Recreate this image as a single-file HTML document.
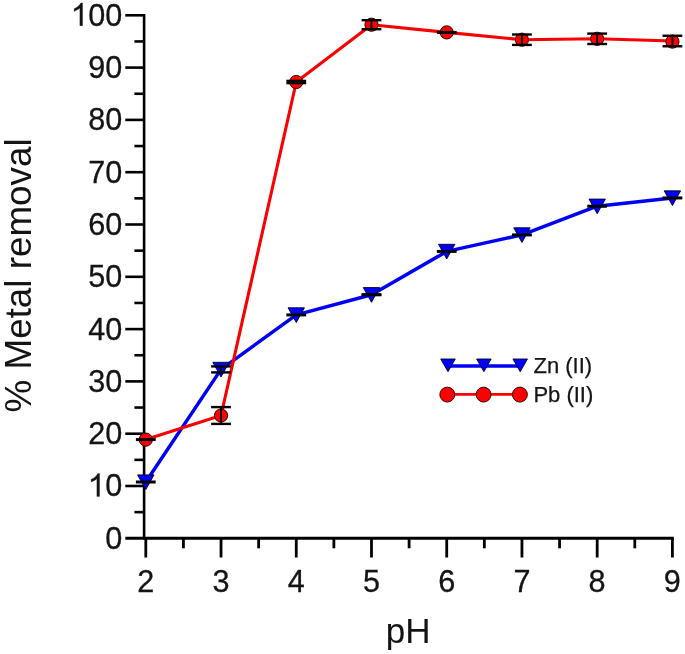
<!DOCTYPE html>
<html><head><meta charset="utf-8"><title>chart</title>
<style>
html,body{margin:0;padding:0;background:#fff;}
svg{display:block;filter:blur(0.6px);}
text{font-family:"Liberation Sans",sans-serif;fill:#141414;}
</style></head><body>
<svg width="685" height="654" viewBox="0 0 685 654">
<rect width="685" height="654" fill="#ffffff"/>
<g stroke="#000" stroke-width="2.60" fill="none" stroke-linecap="butt">
<path d="M144.10 14.00 V539.60"/>
<path d="M125.30 538.30 H673.81" stroke-width="2.9"/>
<path d="M134.4 512.15 H144.10"/>
<path d="M125.3 486.00 H144.10"/>
<path d="M134.4 459.85 H144.10"/>
<path d="M125.3 433.70 H144.10"/>
<path d="M134.4 407.55 H144.10"/>
<path d="M125.3 381.40 H144.10"/>
<path d="M134.4 355.25 H144.10"/>
<path d="M125.3 329.10 H144.10"/>
<path d="M134.4 302.95 H144.10"/>
<path d="M125.3 276.80 H144.10"/>
<path d="M134.4 250.65 H144.10"/>
<path d="M125.3 224.50 H144.10"/>
<path d="M134.4 198.35 H144.10"/>
<path d="M125.3 172.20 H144.10"/>
<path d="M134.4 146.05 H144.10"/>
<path d="M125.3 119.90 H144.10"/>
<path d="M134.4 93.75 H144.10"/>
<path d="M125.3 67.60 H144.10"/>
<path d="M134.4 41.45 H144.10"/>
<path d="M125.3 15.30 H144.10"/>
</g>
<g stroke="#000" stroke-width="2.8" fill="none">
<path d="M145.80 538.30 V557.5"/>
<path d="M183.42 538.30 V548.3"/>
<path d="M221.03 538.30 V557.5"/>
<path d="M258.64 538.30 V548.3"/>
<path d="M296.26 538.30 V557.5"/>
<path d="M333.88 538.30 V548.3"/>
<path d="M371.49 538.30 V557.5"/>
<path d="M409.11 538.30 V548.3"/>
<path d="M446.72 538.30 V557.5"/>
<path d="M484.34 538.30 V548.3"/>
<path d="M521.95 538.30 V557.5"/>
<path d="M559.57 538.30 V548.3"/>
<path d="M597.18 538.30 V557.5"/>
<path d="M634.80 538.30 V548.3"/>
<path d="M672.41 538.30 V557.5"/>
</g>
<text transform="translate(105.19 548.70) scale(0.965 1)" font-size="31.7px" stroke="#141414" stroke-width="0.3">0</text>
<path transform="translate(88.17 496.40) scale(0.01494 -0.01548)" d="M763 0 H583 V1147 Q518 1085 412.5 1023 Q307 961 200 925 V1100 Q374 1175 487 1276 Q600 1377 647 1472 H763 Z" fill="#141414" stroke="#141414" stroke-width="20"/><text transform="translate(105.19 496.40) scale(0.965 1)" font-size="31.7px" stroke="#141414" stroke-width="0.3">0</text>
<text transform="translate(88.17 444.10) scale(0.965 1)" font-size="31.7px" stroke="#141414" stroke-width="0.3">2</text><text transform="translate(105.19 444.10) scale(0.965 1)" font-size="31.7px" stroke="#141414" stroke-width="0.3">0</text>
<text transform="translate(88.17 391.80) scale(0.965 1)" font-size="31.7px" stroke="#141414" stroke-width="0.3">3</text><text transform="translate(105.19 391.80) scale(0.965 1)" font-size="31.7px" stroke="#141414" stroke-width="0.3">0</text>
<text transform="translate(88.17 339.50) scale(0.965 1)" font-size="31.7px" stroke="#141414" stroke-width="0.3">4</text><text transform="translate(105.19 339.50) scale(0.965 1)" font-size="31.7px" stroke="#141414" stroke-width="0.3">0</text>
<text transform="translate(88.17 287.20) scale(0.965 1)" font-size="31.7px" stroke="#141414" stroke-width="0.3">5</text><text transform="translate(105.19 287.20) scale(0.965 1)" font-size="31.7px" stroke="#141414" stroke-width="0.3">0</text>
<text transform="translate(88.17 234.90) scale(0.965 1)" font-size="31.7px" stroke="#141414" stroke-width="0.3">6</text><text transform="translate(105.19 234.90) scale(0.965 1)" font-size="31.7px" stroke="#141414" stroke-width="0.3">0</text>
<text transform="translate(88.17 182.60) scale(0.965 1)" font-size="31.7px" stroke="#141414" stroke-width="0.3">7</text><text transform="translate(105.19 182.60) scale(0.965 1)" font-size="31.7px" stroke="#141414" stroke-width="0.3">0</text>
<text transform="translate(88.17 130.30) scale(0.965 1)" font-size="31.7px" stroke="#141414" stroke-width="0.3">8</text><text transform="translate(105.19 130.30) scale(0.965 1)" font-size="31.7px" stroke="#141414" stroke-width="0.3">0</text>
<text transform="translate(88.17 78.00) scale(0.965 1)" font-size="31.7px" stroke="#141414" stroke-width="0.3">9</text><text transform="translate(105.19 78.00) scale(0.965 1)" font-size="31.7px" stroke="#141414" stroke-width="0.3">0</text>
<path transform="translate(71.16 25.70) scale(0.01494 -0.01548)" d="M763 0 H583 V1147 Q518 1085 412.5 1023 Q307 961 200 925 V1100 Q374 1175 487 1276 Q600 1377 647 1472 H763 Z" fill="#141414" stroke="#141414" stroke-width="20"/><text transform="translate(88.17 25.70) scale(0.965 1)" font-size="31.7px" stroke="#141414" stroke-width="0.3">0</text><text transform="translate(105.19 25.70) scale(0.965 1)" font-size="31.7px" stroke="#141414" stroke-width="0.3">0</text>
<text transform="translate(137.24 591.50) scale(0.965 1)" font-size="31.7px" stroke="#141414" stroke-width="0.3">2</text>
<text transform="translate(212.47 591.50) scale(0.965 1)" font-size="31.7px" stroke="#141414" stroke-width="0.3">3</text>
<text transform="translate(287.70 591.50) scale(0.965 1)" font-size="31.7px" stroke="#141414" stroke-width="0.3">4</text>
<text transform="translate(362.93 591.50) scale(0.965 1)" font-size="31.7px" stroke="#141414" stroke-width="0.3">5</text>
<text transform="translate(438.16 591.50) scale(0.965 1)" font-size="31.7px" stroke="#141414" stroke-width="0.3">6</text>
<text transform="translate(513.39 591.50) scale(0.965 1)" font-size="31.7px" stroke="#141414" stroke-width="0.3">7</text>
<text transform="translate(588.62 591.50) scale(0.965 1)" font-size="31.7px" stroke="#141414" stroke-width="0.3">8</text>
<text transform="translate(663.85 591.50) scale(0.965 1)" font-size="31.7px" stroke="#141414" stroke-width="0.3">9</text>
<text x="408.2" y="642.6" font-size="35.1px" text-anchor="middle">pH</text>
<text transform="translate(31.0 275.4) rotate(-90)" font-size="36.8px" text-anchor="middle">% Metal removal</text>
<polyline fill="none" stroke="#0000f4" stroke-width="3.5" stroke-linejoin="round" points="145.80,482.00 221.03,369.40 296.26,314.90 371.49,294.70 446.72,251.40 521.95,234.90 597.18,206.20 672.41,197.95"/>
<polyline fill="none" stroke="#fa0000" stroke-width="3.1" stroke-linejoin="round" points="145.80,439.60 221.03,415.50 296.26,82.00 371.49,24.70 446.72,32.40 521.95,39.70 597.18,38.80 672.41,41.00"/>
<path d="M137.60 474.90 L154.00 474.90 L145.80 489.60 Z" fill="#0000ff" stroke="#000020" stroke-width="0.9" stroke-linejoin="miter"/>
<path d="M212.83 362.30 L229.23 362.30 L221.03 377.00 Z" fill="#0000ff" stroke="#000020" stroke-width="0.9" stroke-linejoin="miter"/>
<path d="M288.06 307.80 L304.46 307.80 L296.26 322.50 Z" fill="#0000ff" stroke="#000020" stroke-width="0.9" stroke-linejoin="miter"/>
<path d="M363.29 287.60 L379.69 287.60 L371.49 302.30 Z" fill="#0000ff" stroke="#000020" stroke-width="0.9" stroke-linejoin="miter"/>
<path d="M438.52 244.30 L454.92 244.30 L446.72 259.00 Z" fill="#0000ff" stroke="#000020" stroke-width="0.9" stroke-linejoin="miter"/>
<path d="M513.75 227.80 L530.15 227.80 L521.95 242.50 Z" fill="#0000ff" stroke="#000020" stroke-width="0.9" stroke-linejoin="miter"/>
<path d="M588.98 199.10 L605.38 199.10 L597.18 213.80 Z" fill="#0000ff" stroke="#000020" stroke-width="0.9" stroke-linejoin="miter"/>
<path d="M664.21 190.85 L680.61 190.85 L672.41 205.55 Z" fill="#0000ff" stroke="#000020" stroke-width="0.9" stroke-linejoin="miter"/>
<circle cx="145.80" cy="439.60" r="6.60" fill="#ff0000" stroke="#300000" stroke-width="1.0"/>
<circle cx="221.03" cy="415.50" r="6.60" fill="#ff0000" stroke="#300000" stroke-width="1.0"/>
<circle cx="296.26" cy="82.00" r="6.60" fill="#ff0000" stroke="#300000" stroke-width="1.0"/>
<circle cx="371.49" cy="24.70" r="6.60" fill="#ff0000" stroke="#300000" stroke-width="1.0"/>
<circle cx="446.72" cy="32.40" r="6.60" fill="#ff0000" stroke="#300000" stroke-width="1.0"/>
<circle cx="521.95" cy="39.70" r="6.60" fill="#ff0000" stroke="#300000" stroke-width="1.0"/>
<circle cx="597.18" cy="38.80" r="6.60" fill="#ff0000" stroke="#300000" stroke-width="1.0"/>
<circle cx="672.41" cy="41.60" r="6.60" fill="#ff0000" stroke="#300000" stroke-width="1.0"/>
<g stroke="#000" stroke-width="2.4" fill="none">
<path d="M135.90 482.00 H155.70" stroke-width="3.0"/>
<path d="M221.03 366.40 V372.40" stroke-width="2"/><path d="M211.13 366.40 H230.93"/><path d="M211.13 372.40 H230.93"/>
<path d="M286.36 314.90 H306.16" stroke-width="3.0"/>
<path d="M361.59 294.30 H381.39"/><path d="M361.59 295.10 H381.39"/>
<path d="M436.82 251.40 H456.62" stroke-width="3.0"/>
<path d="M512.05 234.90 H531.85" stroke-width="3.0"/>
<path d="M587.28 206.20 H607.08" stroke-width="3.0"/>
<path d="M662.51 197.95 H682.31" stroke-width="3.0"/>
<path d="M135.90 439.60 H155.70" stroke-width="3.0"/>
<path d="M221.03 407.10 V423.90" stroke-width="2"/><path d="M211.13 407.10 H230.93"/><path d="M211.13 423.90 H230.93"/>
<path d="M286.36 80.90 H306.16"/><path d="M286.36 83.10 H306.16"/>
<path d="M371.49 20.20 V29.20" stroke-width="2"/><path d="M361.59 20.20 H381.39"/><path d="M361.59 29.20 H381.39"/>
<path d="M436.82 32.40 H456.62" stroke-width="3.0"/>
<path d="M521.95 34.50 V44.90" stroke-width="2"/><path d="M512.05 34.50 H531.85"/><path d="M512.05 44.90 H531.85"/>
<path d="M597.18 33.60 V44.00" stroke-width="2"/><path d="M587.28 33.60 H607.08"/><path d="M587.28 44.00 H607.08"/>
<path d="M672.41 35.75 V46.25" stroke-width="2"/><path d="M662.51 35.75 H682.31"/><path d="M662.51 46.25 H682.31"/>
</g>
<path d="M448 366.0 H520.2" stroke="#0000f4" stroke-width="3.5" fill="none"/>
<path d="M440.75 359.00 L455.25 359.00 L448.00 371.70 Z" fill="#0000ff" stroke="#000020" stroke-width="0.9" stroke-linejoin="miter"/>
<path d="M476.65 359.00 L491.15 359.00 L483.90 371.70 Z" fill="#0000ff" stroke="#000020" stroke-width="0.9" stroke-linejoin="miter"/>
<path d="M512.95 359.00 L527.45 359.00 L520.20 371.70 Z" fill="#0000ff" stroke="#000020" stroke-width="0.9" stroke-linejoin="miter"/>
<path d="M447.5 394.4 H520.2" stroke="#fa0000" stroke-width="2.8" fill="none"/>
<circle cx="447.30" cy="394.60" r="7.45" fill="#ff0000" stroke="#300000" stroke-width="1.0"/>
<circle cx="483.60" cy="394.60" r="7.45" fill="#ff0000" stroke="#300000" stroke-width="1.0"/>
<circle cx="519.90" cy="394.60" r="7.45" fill="#ff0000" stroke="#300000" stroke-width="1.0"/>
<text x="533.5" y="372.7" font-size="22px" stroke="#141414" stroke-width="0.25">Zn (II)</text>
<text x="533.4" y="401.5" font-size="22px" stroke="#141414" stroke-width="0.25">Pb (II)</text>
</svg></body></html>
